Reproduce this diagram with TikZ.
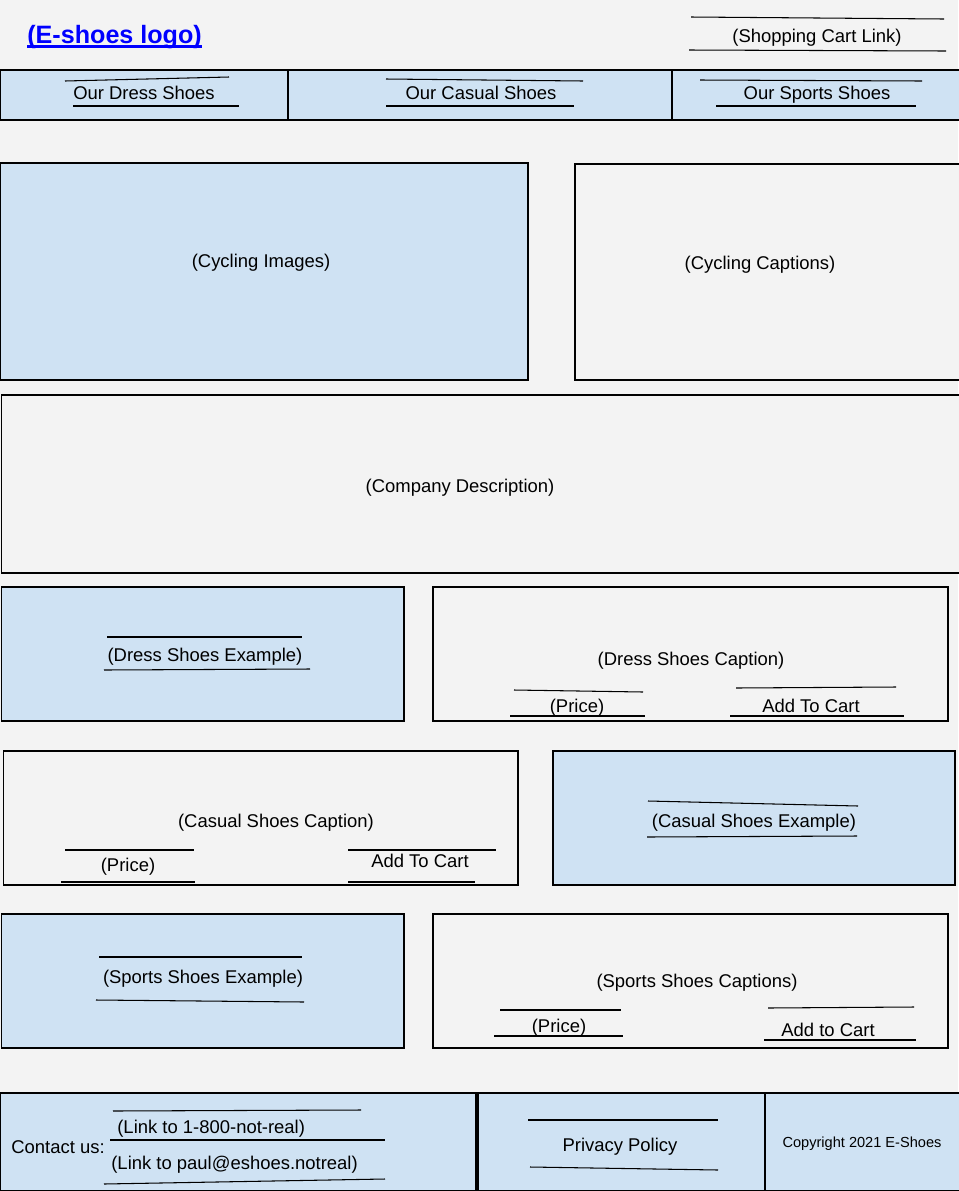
\documentclass[tikz,border=0pt]{standalone}
\usepackage{fontspec}
\setmainfont{Liberation Sans}
\usepackage{xcolor}
\definecolor{pagebg}{HTML}{F3F3F3}
\definecolor{paleblue}{HTML}{CFE2F3}
\definecolor{linkblue}{HTML}{0000FF}

\begin{document}
\begin{tikzpicture}[x=0.02cm, y=-0.02cm,
        box/.style = {draw, line width=0.7pt},
        bluebox/.style = {box, fill=paleblue},
        greybox/.style = {box, fill=pagebg},
        txt/.style = {font=\fontsize{10.5}{12}\selectfont, inner sep=0pt, anchor=base},
        smalltxt/.style = {font=\fontsize{8.3}{10}\selectfont, inner sep=0pt, anchor=base},
        rule/.style = {line width=0.6pt}]
        \useasboundingbox (0,0) rectangle (958,1191);
        \fill[pagebg] (0,0) rectangle (958,1191);

        % header
        \node[txt, anchor=base west, font=\fontsize{14.3}{16}\selectfont\bfseries, text=linkblue] (logo) at (27,43) {(E-shoes logo)};
        \draw[linkblue, line width=1.2pt] (27,46.5) -- (202,46.5);
        \node[txt] (cart) at (817,42) {(Shopping Cart Link)};
        \draw[rule] (691,17) -- (944,19);
        \draw[rule] (689,50) -- (946,51);

        % menu bar
        \draw[bluebox] (0.5,70) rectangle (288,120);
        \draw[bluebox] (288,70) rectangle (672,120);
        \draw[bluebox] (672,70) rectangle (960,120);
        \node[txt] (dress) at (144,99) {Our Dress Shoes};
        \node[txt] (casual) at (481,99) {Our Casual Shoes};
        \node[txt] (sports) at (817,99) {Our Sports Shoes};
        \draw[rule] (65,81) -- (229,77);
        \draw[rule] (73,106) -- (239,106);
        \draw[rule] (386,79) -- (583,81);
        \draw[rule] (386,106) -- (574,106);
        \draw[rule] (700,80) -- (922,81);
        \draw[rule] (716,106) -- (916,106);

        % slideshow + description
        \draw[bluebox] (0.5,163) rectangle (528,380);
        \node[txt] (images) at (261,267) {(Cycling Images)};
        \draw[greybox] (575,164) rectangle (960,380);
        \node[txt] (captions) at (760,269) {(Cycling Captions)};
        \draw[greybox] (1.5,395) rectangle (960,573);
        \node[txt] (about) at (460,492) {(Company Description)};

        % dress shoes row
        \draw[bluebox] (1.5,587) rectangle (404,721);
        \node[txt] (dressex) at (205,661) {(Dress Shoes Example)};
        \draw[rule] (107,637) -- (302,637);
        \draw[rule] (104,670) -- (310,669);
        \draw[greybox] (433,587) rectangle (948,721);
        \node[txt] (dresscap) at (691,665) {(Dress Shoes Caption)};
        \node[txt] (price1) at (577,712) {(Price)};
        \node[txt] (buy1) at (811,712) {Add To Cart};
        \draw[rule] (514,690) -- (643,692);
        \draw[rule] (510,716) -- (645,716);
        \draw[rule] (736,688) -- (896,687);
        \draw[rule] (730,716) -- (904,716);

        % casual shoes row
        \draw[greybox] (3.5,751) rectangle (518,885);
        \node[txt] (casualcap) at (276,827) {(Casual Shoes Caption)};
        \node[txt] (price2) at (128,871) {(Price)};
        \node[txt] (buy2) at (420,867) {Add To Cart};
        \draw[rule] (65,850) -- (194,850);
        \draw[rule] (61,882) -- (195,882);
        \draw[rule] (348,850) -- (496,850);
        \draw[rule] (348,882) -- (475,882);
        \draw[bluebox] (553,751) rectangle (955,885);
        \node[txt] (casualex) at (754,827) {(Casual Shoes Example)};
        \draw[rule] (648,801) -- (858,806);
        \draw[rule] (647,837) -- (857,836);

        % sports shoes row
        \draw[bluebox] (1.5,914) rectangle (404,1048);
        \node[txt] (sportsex) at (203,983) {(Sports Shoes Example)};
        \draw[rule] (99,957) -- (302,957);
        \draw[rule] (96,1000) -- (304,1002);
        \draw[greybox] (433,914) rectangle (948,1048);
        \node[txt] (sportscap) at (697,987) {(Sports Shoes Captions)};
        \node[txt] (price3) at (559,1032) {(Price)};
        \node[txt] (buy3) at (828,1036) {Add to Cart};
        \draw[rule] (500,1010) -- (621,1010);
        \draw[rule] (494,1036) -- (623,1036);
        \draw[rule] (768,1008) -- (914,1007);
        \draw[rule] (764,1040) -- (916,1040);

        % footer
        \draw[bluebox] (0.5,1093) rectangle (476,1190.5);
        \draw[bluebox] (478,1093) rectangle (765,1190.5);
        \draw[bluebox] (765,1093) rectangle (960,1190.5);
        \node[txt, anchor=base west] (contact) at (11,1153) {Contact us:};
        \node[txt, anchor=base west] (phone) at (117,1133) {(Link to 1-800-not-real)};
        \node[txt, anchor=base west] (mail) at (111,1169) {(Link to paul@eshoes.notreal)};
        \draw[rule] (113,1111) -- (361,1110);
        \draw[rule] (110,1140) -- (385,1140);
        \draw[rule] (104,1184) -- (385,1179);
        \node[txt] (privacy) at (620,1151) {Privacy Policy};
        \draw[rule] (528,1120) -- (718,1120);
        \draw[rule] (530,1167) -- (718,1170);
        \node[smalltxt] (copy) at (862,1147) {Copyright 2021 E-Shoes};

    \end{tikzpicture}
\end{document}
